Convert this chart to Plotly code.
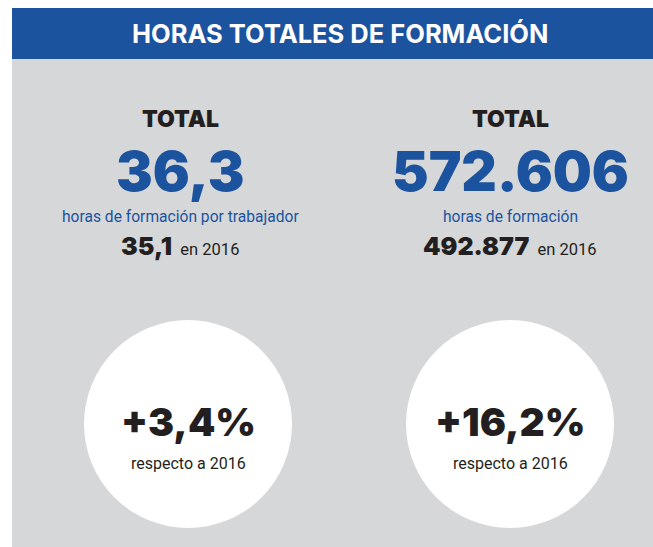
import plotly.graph_objects as go

# Infographic content
TITLE = "HORAS TOTALES DE FORMACIÓN"
metric_labels = ["TOTAL", "TOTAL"]
current_values = ["36,3", "572.606"]
descriptions = ["horas de formación por trabajador", "horas de formación"]
previous_values = ["35,1", "492.877"]
previous_year = "2016"
changes = ["+3,4%", "+16,2%"]
change_note = "respecto a 2016"

PALETTE = {
    "blue": "#1B539E",
    "grey": "#D6D7D9",
    "ink": "#231F20",
    "white": "#FFFFFF",
}
HEAVY = "Inter"
LIGHT = "Roboto, Liberation Sans, sans-serif"

W, H = 653, 547
col_x = [180, 510]
circle_x = [188, 510]
circle_r = 104
circle_y = 424

fig = go.Figure()

# panels
fig.add_shape(type="rect", x0=12, x1=W, y0=59, y1=H, line_width=0,
              fillcolor=PALETTE["grey"], layer="below")
fig.add_shape(type="rect", x0=12, x1=W, y0=8, y1=59, line_width=0,
              fillcolor=PALETTE["blue"], layer="below")
for cx in circle_x:
    fig.add_shape(type="circle", x0=cx - circle_r, x1=cx + circle_r,
                  y0=circle_y - circle_r, y1=circle_y + circle_r,
                  line_width=0, fillcolor=PALETTE["white"], layer="below")

# invisible trace so axes exist
fig.add_trace(go.Scatter(x=[0, W], y=[0, H], mode="markers",
                         marker=dict(opacity=0), hoverinfo="skip", showlegend=False))


def note(x, y, text, size, color, family, weight="normal"):
    fig.add_annotation(x=x, y=y, text=text, showarrow=False, xanchor="center",
                       yanchor="middle",
                       font=dict(size=size, color=color, family=family, weight=weight))


note(340, 33, TITLE, 25.5, PALETTE["white"], HEAVY, 700)

for i in range(2):
    x = col_x[i]
    note(x, 119, metric_labels[i], 23, PALETTE["ink"], HEAVY, 900)
    note(x, 171, current_values[i], 55, PALETTE["blue"], HEAVY, 900)
    note(x, 217, descriptions[i], 15.6, PALETTE["blue"], LIGHT)
    note(x, 246,
         f"<span style='font-family:Inter;font-size:25px;font-weight:900'>{previous_values[i]}</span>"
         f"  en {previous_year}", 16.5, PALETTE["ink"], LIGHT)
    cx = circle_x[i]
    note(cx, 421, changes[i], 39, PALETTE["ink"], HEAVY, 900)
    note(cx, 463, change_note, 16, PALETTE["ink"], LIGHT)

fig.update_layout(
    width=W, height=H,
    margin=dict(l=0, r=0, t=0, b=0),
    paper_bgcolor=PALETTE["white"], plot_bgcolor=PALETTE["white"],
    xaxis=dict(range=[0, W], visible=False, fixedrange=True),
    yaxis=dict(range=[H, 0], visible=False, fixedrange=True),
    showlegend=False,
)

fig.write_html("out.html", config={"displayModeBar": False},
               post_script="document.body.style.margin='0';document.body.style.overflow='hidden';")
